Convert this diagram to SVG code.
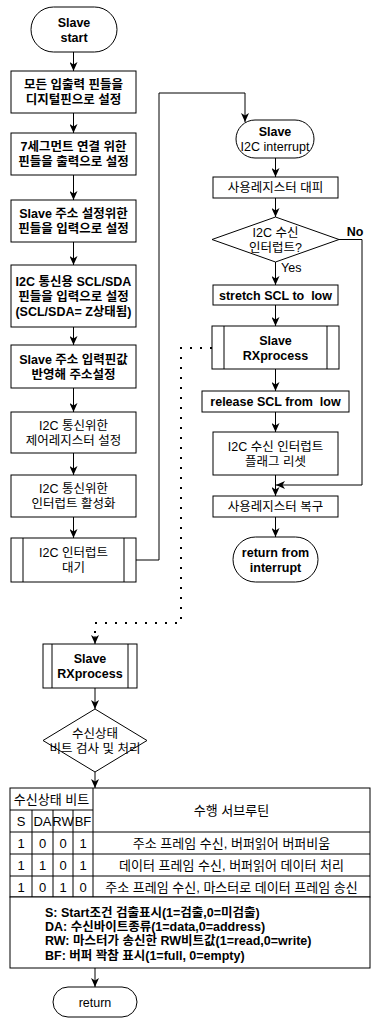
<svg xmlns="http://www.w3.org/2000/svg" width="371" height="1026" viewBox="0 0 371 1026">
<style>
.s{fill:#fff;stroke:#000;stroke-width:1}
.l{fill:none;stroke:#000;stroke-width:1}
.d{fill:none;stroke:#000;stroke-width:2;stroke-dasharray:2 8}
text{font-family:"Liberation Sans","Noto Sans CJK KR",sans-serif;font-size:12.5px;fill:#000;text-anchor:middle}
.b{font-weight:bold}
.st{text-anchor:start}
.t{font-size:13px}
</style>
<defs>
<marker id="a" markerUnits="userSpaceOnUse" markerWidth="9" markerHeight="8" viewBox="0 0 9 8" refX="9" refY="4" orient="auto">
<path d="M0,0 L9,4 L0,8 L2.5,4 Z" fill="#000"/>
</marker>
</defs>
<rect width="371" height="1026" fill="#fff"/>
<g id="connectors">
<path class="l" d="M73.5,52 V71" marker-end="url(#a)"/>
<path class="l" d="M73.5,113 V133" marker-end="url(#a)"/>
<path class="l" d="M73.5,175 V200" marker-end="url(#a)"/>
<path class="l" d="M73.5,242 V265" marker-end="url(#a)"/>
<path class="l" d="M73.5,327 V345" marker-end="url(#a)"/>
<path class="l" d="M73.5,388 V412" marker-end="url(#a)"/>
<path class="l" d="M73.5,453 V475" marker-end="url(#a)"/>
<path class="l" d="M73.5,517 V538" marker-end="url(#a)"/>
<path class="l" d="M136,560 H159 V93 H245 V122" marker-end="url(#a)"/>
<path class="l" d="M275.5,158 V177" marker-end="url(#a)"/>
<path class="l" d="M275.5,198 V217" marker-end="url(#a)"/>
<path class="l" d="M275.5,262 V285" marker-end="url(#a)"/>
<path class="l" d="M275.5,305 V326" marker-end="url(#a)"/>
<path class="l" d="M275.5,369 V391" marker-end="url(#a)"/>
<path class="l" d="M275.5,412 V432" marker-end="url(#a)"/>
<path class="l" d="M275.5,475 V496" marker-end="url(#a)"/>
<path class="l" d="M339,239.5 H362 V485 H276" marker-end="url(#a)"/>
<path class="l" d="M275.5,517 V537" marker-end="url(#a)"/>
<path class="d" d="M212,348 H181 V623 H95 V636"/>
<path class="l" d="M95,636 V644" marker-end="url(#a)"/>
<path class="l" d="M95,688 V709" marker-end="url(#a)"/>
<path class="l" d="M95,772 V788" marker-end="url(#a)"/>
<path class="l" d="M95,968 V987" marker-end="url(#a)"/>
<text x="281" y="272" class="st">Yes</text>
<text x="355" y="236" class="b">No</text>
</g>
<g id="start">
<rect class="s" x="31" y="7" width="86" height="45" rx="22.5"/>
<text x="74" y="26.5" class="b">Slave</text>
<text x="74" y="41.5" class="b">start</text>
</g>
<g id="box1">
<rect class="s" x="11" y="71" width="125" height="42"/>
<text x="73.5" y="89" class="b">모든 입출력 핀들을</text>
<text x="73.5" y="104" class="b">디지털핀으로 설정</text>
</g>
<g id="box2">
<rect class="s" x="11" y="133" width="125" height="42"/>
<text x="73.5" y="151" class="b">7세그먼트 연결 위한</text>
<text x="73.5" y="166" class="b">핀들을 출력으로 설정</text>
</g>
<g id="box3">
<rect class="s" x="11" y="200" width="125" height="42"/>
<text x="73.5" y="218" class="b">Slave 주소 설정위한</text>
<text x="73.5" y="233" class="b">핀들을 입력으로 설정</text>
</g>
<g id="box4">
<rect class="s" x="11" y="265" width="125" height="62"/>
<text x="73.5" y="285.5" class="b">I2C 통신용 SCL/SDA</text>
<text x="73.5" y="300.5" class="b">핀들을 입력으로 설정</text>
<text x="73.5" y="315.5" class="b">(SCL/SDA= Z상태됨)</text>
</g>
<g id="box5">
<rect class="s" x="11" y="345" width="125" height="43"/>
<text x="73.5" y="363.5" class="b">Slave 주소 입력핀값</text>
<text x="73.5" y="378.5" class="b">반영해 주소설정</text>
</g>
<g id="box6">
<rect class="s" x="11" y="412" width="125" height="41"/>
<text x="73.5" y="429.5">I2C 통신위한</text>
<text x="73.5" y="444.5">제어레지스터 설정</text>
</g>
<g id="box7">
<rect class="s" x="11" y="475" width="125" height="42"/>
<text x="73.5" y="493">I2C 통신위한</text>
<text x="73.5" y="508">인터럽트 활성화</text>
</g>
<g id="box8">
<rect class="s" x="11" y="538" width="125" height="44"/>
<path class="l" d="M23,538 V582 M124,538 V582"/>
<text x="73.5" y="557">I2C 인터럽트</text>
<text x="73.5" y="572">대기</text>
</g>
<g id="isr">
<rect class="s" x="236" y="120" width="78" height="38" rx="19"/>
<text x="275" y="136" class="b">Slave</text>
<text x="275" y="151">I2C interrupt</text>
</g>
<g id="save">
<rect class="s" x="213" y="177" width="125" height="21"/>
<text x="275.5" y="192">사용레지스터 대피</text>
</g>
<g id="dec1">
<path class="s" d="M275.5,217 L339,239.5 L275.5,262 L212,239.5 Z"/>
<text x="275.5" y="236.5">I2C 수신</text>
<text x="275.5" y="251.5">인터럽트?</text>
</g>
<g id="stretch">
<rect class="s" x="213" y="285" width="125" height="20"/>
<text x="275.5" y="299.5" class="b" xml:space="preserve">stretch SCL to  low</text>
</g>
<g id="rxp1">
<rect class="s" x="212" y="326" width="127" height="43"/>
<path class="l" d="M224,326 V369 M327,326 V369"/>
<text x="275.5" y="344.5" class="b">Slave</text>
<text x="275.5" y="359.5" class="b">RXprocess</text>
</g>
<g id="release">
<rect class="s" x="202" y="391" width="147" height="21"/>
<text x="275.5" y="406" class="b" xml:space="preserve">release SCL from  low</text>
</g>
<g id="flag">
<rect class="s" x="213" y="432" width="125" height="43"/>
<text x="275.5" y="450.5">I2C 수신 인터럽트</text>
<text x="275.5" y="465.5">플래그 리셋</text>
</g>
<g id="restore">
<rect class="s" x="213" y="496" width="125" height="21"/>
<text x="275.5" y="511">사용레지스터 복구</text>
</g>
<g id="reti">
<rect class="s" x="233" y="537" width="85" height="45" rx="22.5"/>
<text x="275.5" y="556.5" class="b">return from</text>
<text x="275.5" y="571.5" class="b">interrupt</text>
</g>
<g id="rxp2">
<rect class="s" x="43" y="644" width="94" height="44"/>
<path class="l" d="M52,644 V688 M128,644 V688"/>
<text x="90" y="662.5" class="b">Slave</text>
<text x="90" y="677.5" class="b">RXprocess</text>
</g>
<g id="dec2">
<path class="s" d="M95,709 L147,740.5 L95,772 L43,740.5 Z"/>
<text x="95" y="737.5">수신상태</text>
<text x="95" y="752.5">비트 검사 및 처리</text>
</g>
<g id="table">
<rect class="s" x="10" y="788" width="360" height="109"/>
<path class="l" d="M93,788 V897 M10,810 H93 M10,832 H370 M10,854 H370 M10,876 H370 M32,810 V897 M53,810 V897 M73,810 V897"/>
<text x="51.5" y="803.5" class="t">수신상태 비트</text>
<text x="231.5" y="815" class="t">수행 서브루틴</text>
<text x="21" y="825.5" class="t">S</text>
<text x="42.5" y="825.5" class="t">DA</text>
<text x="63" y="825.5" class="t">RW</text>
<text x="83" y="825.5" class="t">BF</text>
<text x="21" y="847.5" class="t">1</text><text x="42.5" y="847.5" class="t">0</text><text x="63" y="847.5" class="t">0</text><text x="83" y="847.5" class="t">1</text>
<text x="231.5" y="847.5" class="t">주소 프레임 수신, 버퍼읽어 버퍼비움</text>
<text x="21" y="869.5" class="t">1</text><text x="42.5" y="869.5" class="t">1</text><text x="63" y="869.5" class="t">0</text><text x="83" y="869.5" class="t">1</text>
<text x="231.5" y="869.5" class="t">데이터 프레임 수신, 버퍼읽어 데이터 처리</text>
<text x="21" y="891.5" class="t">1</text><text x="42.5" y="891.5" class="t">0</text><text x="63" y="891.5" class="t">1</text><text x="83" y="891.5" class="t">0</text>
<text x="231.5" y="891.5" class="t">주소 프레임 수신, 마스터로 데이터 프레임 송신</text>
</g>
<g id="legend">
<rect class="s" x="10" y="897" width="360" height="71"/>
<text x="45" y="916.5" class="st b">S: Start조건 검출표시(1=검출,0=미검출)</text>
<text x="45" y="930.5" class="st b">DA: 수신바이트종류(1=data,0=address)</text>
<text x="45" y="945" class="st b">RW: 마스터가 송신한 RW비트값(1=read,0=write)</text>
<text x="45" y="959.5" class="st b">BF: 버퍼 꽉참 표시(1=full, 0=empty)</text>
</g>
<g id="ret">
<rect class="s" x="53" y="987" width="84" height="30" rx="15"/>
<text x="95" y="1006.5">return</text>
</g>
</svg>
